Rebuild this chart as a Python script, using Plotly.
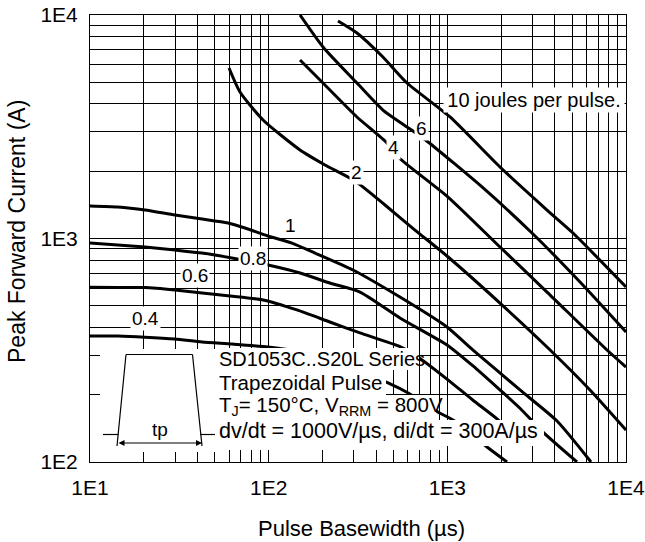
import plotly.graph_objects as go

# ---------------- data ----------------
# Pulse basewidth (µs) and peak forward current (A) along each energy curve (joules per pulse)
pw_0p4 = [10, 14.3, 20.3, 29.9, 42.4, 62.3, 99.1, 149.8, 250.7, 465.5, 618, 864, 1076, 1667, 2158]
ipk_0p4 = [366, 366, 362, 355, 344, 337, 327, 311, 274, 226, 201.5, 169, 154, 116.7, 100]

pw_0p6 = [10, 14.3, 20.3, 29.9, 42.4, 60.8, 93, 144, 220, 324.6, 550, 685, 995, 1392, 1897, 2551]
ipk_0p6 = [605, 604, 603, 588, 571, 553, 531, 479, 423, 378, 327, 295, 235, 189, 156, 125]

pw_0p8 = [10, 14.3, 20.3, 29.9, 42.4, 62.3, 99.1, 149.8, 220, 324.6, 543, 995, 1392, 1971, 2551, 3431, 5318]
ipk_0p8 = [955, 935, 916, 888, 861, 818, 761, 701, 632, 576, 441, 334, 269, 210, 174, 136, 100]

pw_1 = [10, 14.3, 20.3, 29.9, 42.4, 59.2, 73.7, 99.1, 135, 181.6, 296.5, 543, 995, 1392, 2551, 4110, 6368]
ipk_1 = [1398, 1383, 1341, 1274, 1223, 1173, 1114, 1026, 954, 861, 723, 547, 402, 317, 210, 152.5, 100]

pw_2 = [60, 69.1, 93, 149.8, 206.7, 304.2, 447.9, 659, 995, 1971, 3613, 6288, 10000]
ipk_2 = [5794, 4524, 3390, 2489, 2133, 1808, 1412, 1091, 835, 514, 327, 210, 139]

pw_4 = [149.8, 201.4, 312, 459.5, 530, 1009, 1971, 3613, 7827, 10000]
ipk_4 = [6291, 4962, 3496, 2675, 2316, 1533, 916, 576, 317, 266]

pw_6 = [149.8, 201.4, 312, 436, 594.8, 779.5, 1563, 2977, 5528, 10000]
ipk_6 = [10000, 7192, 4962, 3757, 3155, 2703, 1700, 1058, 639, 382]

pw_10 = [244.3, 312, 436, 594.8, 1035, 1971, 3613, 5050, 10000]
ipk_10 = [9402, 8308, 6488, 4962, 3497, 2089, 1341, 1058, 607]

curve_names = ["0.4", "0.6", "0.8", "1", "2", "4", "6", "10"]
curve_x = [pw_0p4, pw_0p6, pw_0p8, pw_1, pw_2, pw_4, pw_6, pw_10]
curve_y = [ipk_0p4, ipk_0p6, ipk_0p8, ipk_1, ipk_2, ipk_4, ipk_6, ipk_10]

x_decades = [10, 100, 1000, 10000]
x_tick_text = ["1E1", "1E2", "1E3", "1E4"]
y_decades = [100, 1000, 10000]
y_tick_text = ["1E2", "1E3", "1E4"]

x_title = "Pulse Basewidth (µs)"
y_title = "Peak Forward Current (A)"
note_lines = [
    "SD1053C..S20L Series",
    "Trapezoidal Pulse",
    "T<sub>J</sub>= 150°C, V<sub>RRM</sub> = 800V",
    "dv/dt = 1000V/µs, di/dt = 300A/µs",
]

FONT = "Liberation Sans, Arial, sans-serif"

# ---------------- helpers for layout placement ----------------
L, R, T, B = 90, 626, 15, 462
W, H = 645, 542


def px(x):
    return (x - L) / (R - L)


def py(y):
    return (B - y) / (B - T)


def minor_vals(decades):
    return [d * m for d in decades[:-1] for m in range(2, 10)]


fig = go.Figure()
for name, xs, ys in zip(curve_names, curve_x, curve_y):
    fig.add_trace(go.Scatter(
        x=xs, y=ys, mode="lines", name=name,
        line=dict(color="black", width=3, shape="spline", smoothing=0.6),
        hoverinfo="skip", showlegend=False,
    ))

axis_common = dict(
    type="log", showgrid=True, gridcolor="black", gridwidth=1,
    showline=True, linecolor="black", linewidth=1, mirror=True,
    ticks="", zeroline=False, tickmode="array", automargin=False, tickangle=0,
    tickfont=dict(family=FONT, size=21, color="black"),
)
fig.update_xaxes(range=[1, 4], tickvals=x_decades, ticktext=x_tick_text, ticklabelstandoff=7,
                 minor=dict(tickmode="array", tickvals=minor_vals(x_decades), showgrid=True,
                            gridcolor="black", gridwidth=1, ticks=""),
                 **axis_common)
fig.update_yaxes(range=[2, 4], tickvals=y_decades, ticktext=y_tick_text, ticklabelstandoff=7,
                 minor=dict(tickmode="array", tickvals=minor_vals(y_decades), showgrid=True,
                            gridcolor="black", gridwidth=1, ticks=""),
                 **axis_common)

# white masks under the notes / inset drawing
shapes = []


def white(x0, y0, x1, y1):
    shapes.append(dict(type="rect", xref="paper", yref="paper", layer="above",
                       x0=px(x0), x1=px(x1), y0=py(y1), y1=py(y0),
                       fillcolor="white", line=dict(width=0)))


white(100, 349, 218, 452)   # inset area
white(218, 348, 419, 370)   # row 1
white(100, 370, 386, 395)   # row 2
white(100, 395, 436, 420)   # row 3
white(100, 420, 544, 446)   # row 4
white(100, 446, 440, 450)


def seg(x0, y0, x1, y1, w=1.2):
    shapes.append(dict(type="line", xref="paper", yref="paper", layer="above",
                       x0=px(x0), y0=py(y0), x1=px(x1), y1=py(y1),
                       line=dict(color="black", width=w)))


# trapezoid pulse sketch
seg(126, 354.5, 192.5, 354.5)
seg(126, 354.5, 117, 446)
seg(192.5, 354.5, 202, 446)
seg(103, 434.5, 118.5, 434.5)
seg(200.5, 434.5, 215, 434.5)

annotations = []

# dimension arrow for tp
annotations.append(dict(xref="paper", yref="paper", x=px(202), y=py(443), ax=-85, ay=0,
                        text="", showarrow=True, arrowhead=2, arrowside="end+start",
                        arrowsize=1, arrowwidth=1.2, arrowcolor="black", standoff=0,
                        startstandoff=0))
annotations.append(dict(xref="paper", yref="paper", x=px(160), y=py(429), text="tp",
                        showarrow=False, xanchor="center", yanchor="middle",
                        font=dict(family=FONT, size=19, color="black")))

# note lines
row_y = [359, 382, 406, 431]
row_size = [20, 20.5, 20.5, 21.5]
for txt, yy, fs in zip(note_lines, row_y, row_size):
    annotations.append(dict(xref="paper", yref="paper", x=px(217), y=py(yy), text=txt,
                            showarrow=False, xanchor="left", yanchor="middle",
                            font=dict(family=FONT, size=fs, color="black")))

# curve labels (white boxes)
label_pos = {
    "0.4": (145, 318), "0.6": (195, 275), "0.8": (253, 258), "1": (290, 225),
    "2": (356, 172), "4": (393, 147), "6": (421, 128),
}
for name in curve_names[:-1]:
    xx, yy = label_pos[name]
    annotations.append(dict(xref="paper", yref="paper", x=px(xx), y=py(yy), text=name,
                            showarrow=False, xanchor="center", yanchor="middle",
                            bgcolor="white", borderpad=1,
                            font=dict(family=FONT, size=19, color="black")))
annotations.append(dict(xref="paper", yref="paper", x=px(534), y=py(100),
                        text=curve_names[-1] + " joules per pulse.",
                        showarrow=False, xanchor="center", yanchor="middle",
                        width=178, align="center", bgcolor="white", borderpad=1,
                        font=dict(family=FONT, size=20, color="black")))

# axis titles
annotations.append(dict(xref="paper", yref="paper", x=px(361), y=py(528), text=x_title,
                        showarrow=False, xanchor="center", yanchor="middle",
                        font=dict(family=FONT, size=22, color="black")))
annotations.append(dict(xref="paper", yref="paper", x=px(17), y=py(232), text=y_title,
                        showarrow=False, xanchor="center", yanchor="middle", textangle=-90,
                        font=dict(family=FONT, size=23, color="black")))

fig.update_layout(
    width=W, height=H,
    margin=dict(l=L, r=W - R, t=T, b=H - B, pad=0, autoexpand=False),
    paper_bgcolor="white", plot_bgcolor="white",
    shapes=shapes, annotations=annotations,
    font=dict(family=FONT, color="black"),
    showlegend=False,
)

fig.write_html(
    "out.html",
    config={"displayModeBar": False},
    post_script="document.body.style.margin='0px';document.body.style.overflow='hidden';",
)
